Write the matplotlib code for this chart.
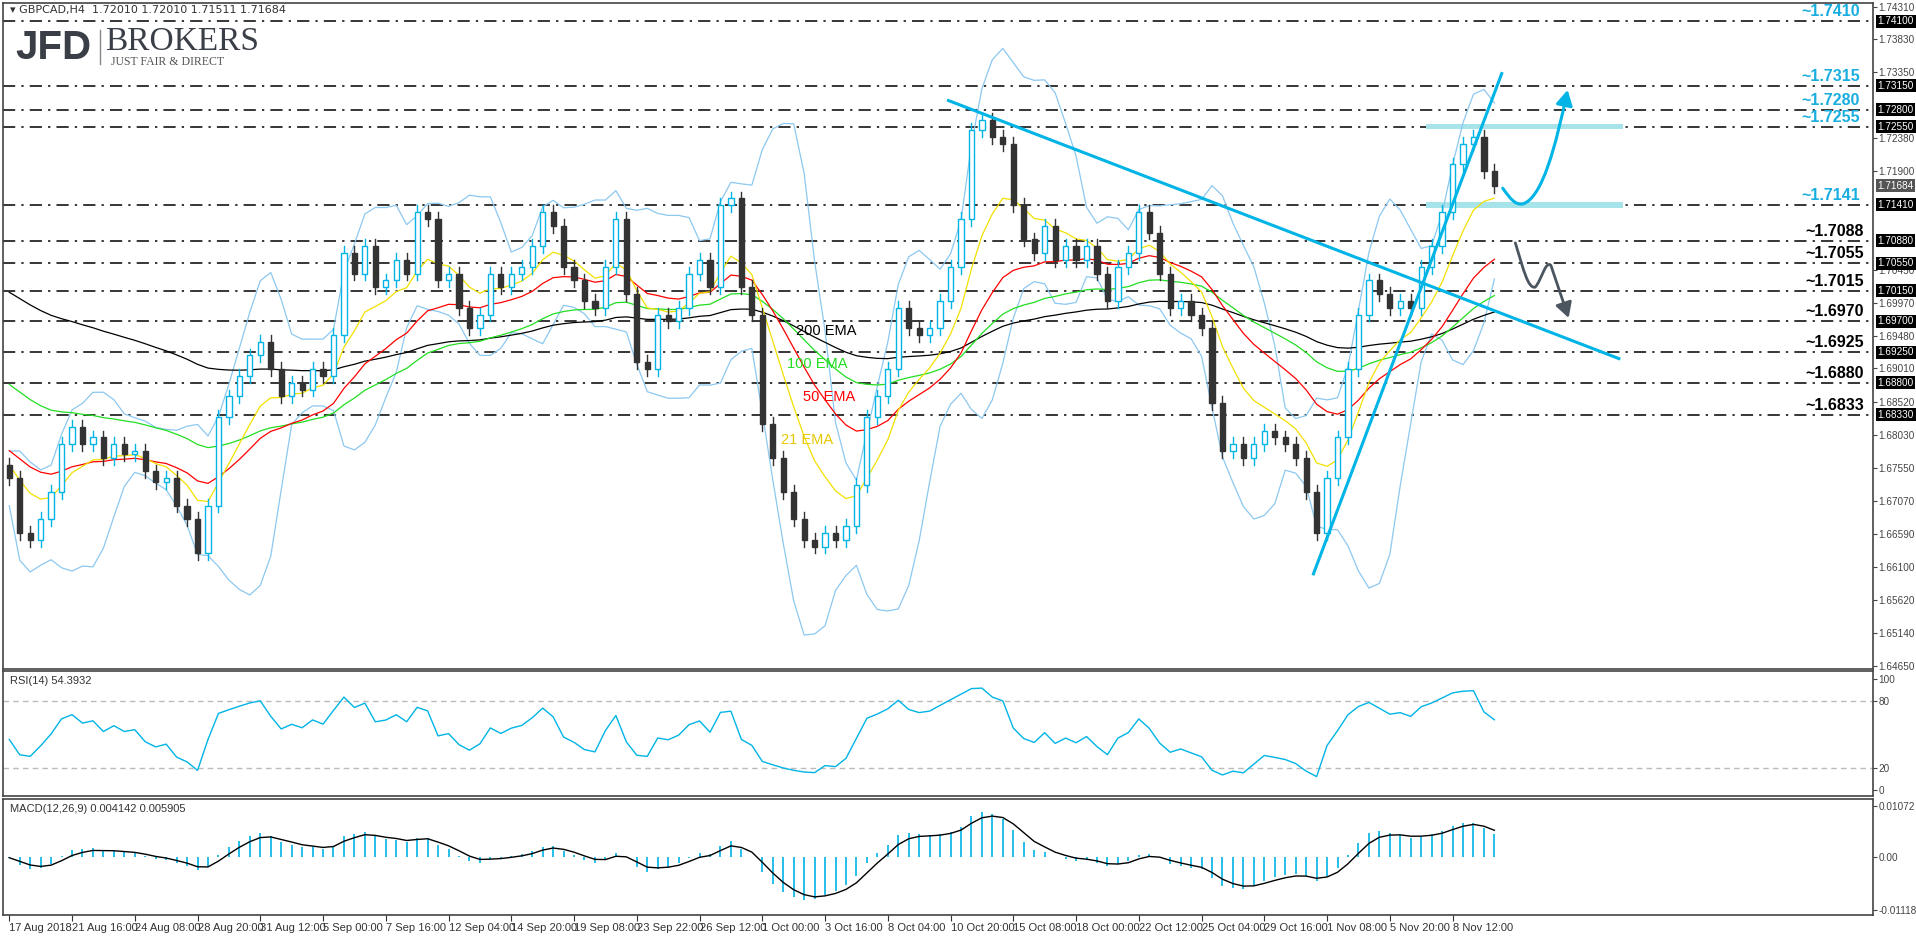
import numpy as np
import matplotlib
matplotlib.use("Agg")
import matplotlib.pyplot as plt
from matplotlib.patches import Rectangle, FancyArrowPatch
from matplotlib.path import Path
import matplotlib.transforms as mtransforms

# ---------------- data ----------------
closes = [1.6740,1.6660,1.6650,1.6680,1.6720,1.6790,1.6815,1.6790,1.6800,1.6770,
          1.6790,1.6775,1.6780,1.6750,1.6735,1.6740,1.6700,1.6680,1.6630,1.6700,
          1.6830,1.6860,1.6890,1.6920,1.6940,1.6900,1.6860,1.6880,1.6870,1.6900,
          1.6890,1.6950,1.7070,1.7040,1.7080,1.7020,1.7030,1.7060,1.7040,1.7130,
          1.7120,1.7030,1.7040,1.6990,1.6960,1.6980,1.7040,1.7020,1.7040,1.7050,
          1.7080,1.7130,1.7110,1.7050,1.7030,1.7000,1.6990,1.7050,1.7120,1.7010,
          1.6910,1.6900,1.6980,1.6970,1.6990,1.7040,1.7060,1.7020,1.7140,1.7150,
          1.7020,1.6980,1.6820,1.6770,1.6720,1.6680,1.6650,1.6640,1.6660,1.6650,
          1.6670,1.6730,1.6830,1.6860,1.6900,1.6990,1.6960,1.6950,1.6960,1.7000,
          1.7050,1.7120,1.7250,1.7265,1.7240,1.7230,1.7140,1.7090,1.7070,1.7110,
          1.7060,1.7080,1.7060,1.7080,1.7040,1.7000,1.7050,1.7070,1.7130,1.7100,
          1.7040,1.6990,1.7000,1.6980,1.6960,1.6850,1.6780,1.6790,1.6770,1.6790,
          1.6810,1.6800,1.6790,1.6770,1.6720,1.6660,1.6740,1.6800,1.6900,1.6980,
          1.7030,1.7010,1.6990,1.7000,1.6990,1.7050,1.7080,1.7130,1.7200,1.7230,
          1.7240,1.7190,1.7168]
first_open = 1.6760
wick = 0.0010
ema_seeds = {"21": 1.6765, "50": 1.6785, "100": 1.6885, "200": 1.7020}

tick_labels = ["17 Aug 2018","21 Aug 16:00","24 Aug 08:00","28 Aug 20:00","31 Aug 12:00",
               "5 Sep 00:00","7 Sep 16:00","12 Sep 04:00","14 Sep 20:00","19 Sep 08:00",
               "23 Sep 22:00","26 Sep 12:00","1 Oct 00:00","3 Oct 16:00","8 Oct 04:00",
               "10 Oct 20:00","15 Oct 08:00","18 Oct 00:00","22 Oct 12:00","25 Oct 04:00",
               "29 Oct 16:00","1 Nov 08:00","5 Nov 20:00","8 Nov 12:00"]
bars_per_label = 6

levels_cyan = [1.7410, 1.7315, 1.7280, 1.7255, 1.7141]
levels_black = [1.7088, 1.7055, 1.7015, 1.6970, 1.6925, 1.6880, 1.6833]
right_ticks = [1.74310,1.73830,1.73350,1.72380,1.71900,1.70450,1.69970,1.69480,1.69010,
               1.68520,1.68030,1.67550,1.67070,1.66590,1.66100,1.65620,1.65140,1.64650]
last_price = 1.71684

down_trend = ([89.8, 153.9], [1.72935, 1.69154])
up_trend = ([124.7, 142.7], [1.6600, 1.7333])
zone_x = [135.5, 154.3]

# ---------------- indicators ----------------
c = np.array(closes)
n = len(c)
x = np.arange(n)
opens = np.concatenate([[first_open], c[:-1]])

def ema(vals, period, seed):
    a = 2.0 / (period + 1)
    out = []
    prev = seed
    for v in vals:
        prev = prev + a * (v - prev)
        out.append(prev)
    return np.array(out)

scale = bars_per_label / 16.0
e21 = ema(c, max(2, round(21 * scale)), ema_seeds["21"])
e50 = ema(c, round(50 * scale), ema_seeds["50"])
e100 = ema(c, round(100 * scale), ema_seeds["100"])
e200 = ema(c, round(200 * scale), ema_seeds["200"])

bbp = 8
mid = np.array([c[max(0, i - bbp + 1):i + 1].mean() for i in range(n)])
sd = np.array([max(c[max(0, i - bbp + 1):i + 1].std(), 0.002) for i in range(n)])
bb_up = mid + 2 * sd
bb_lo = mid - 2 * sd

rp = 6
d = np.diff(np.concatenate([[first_open], c]))
g = np.where(d > 0, d, 0); l = np.where(d < 0, -d, 0)
ag = ema(g, 2 * rp - 1, 0.002); al = ema(l, 2 * rp - 1, 0.002)
rsi = 100 - 100 / (1 + ag / al)

m_fast = ema(c, 5, first_open); m_slow = ema(c, 10, first_open)
macd = m_fast - m_slow
signal = ema(macd, 3, 0.0)

# ---------------- figure ----------------
W, H = 1916, 936
fig = plt.figure(figsize=(W / 100, H / 100), dpi=100)
plt.rcParams['font.family'] = ['Liberation Sans', 'DejaVu Sans']
L, R = 3 / W, 1873 / W
ax = fig.add_axes([L, 1 - 669 / H, R - L, (669 - 3) / H])
ax2 = fig.add_axes([L, 1 - 796 / H, R - L, (796 - 671) / H], sharex=ax)
ax3 = fig.add_axes([L, 1 - 915 / H, R - L, (915 - 799) / H], sharex=ax)

xmax = 178.2
CY = "#00b4e6"
for a in (ax, ax2, ax3):
    a.set_xlim(-0.6, xmax)
    for s in a.spines.values():
        s.set_color("#444444"); s.set_linewidth(1.2)
    a.yaxis.tick_right()
    a.tick_params(axis='y', labelsize=7.2, colors="#444444", length=3, pad=1)
    a.tick_params(axis='x', length=0, labelbottom=False)

# main
ax.set_ylim(1.64606, 1.74364)
ax.set_yticks(right_ticks)
ax.set_yticklabels([f"{t:.5f}" for t in right_ticks])
for lv in levels_cyan + levels_black:
    ax.axhline(lv, color="black", lw=1.1, dashes=(8, 4, 1.5, 4))
bt = mtransforms.blended_transform_factory(ax.transAxes, ax.transData)
for lv in levels_cyan:
    ax.text(0.993, lv + 0.0003, f"~{lv:.4f}", transform=bt, ha="right", va="bottom",
            color="#1aaee0", fontsize=11.5, fontweight="bold")
for lv in levels_black:
    ax.text(0.995, lv + 0.0003, f"~{lv:.4f}", transform=bt, ha="right", va="bottom",
            color="black", fontsize=11.5, fontweight="bold")
for lv in levels_cyan + levels_black:
    ax.text(1.0025, lv, f"{lv:.5f}", transform=bt, ha="left", va="center", color="white",
            fontsize=7.2, bbox=dict(boxstyle="square,pad=0.15", fc="black", ec="none"))
ax.text(1.0025, last_price, f"{last_price:.5f}", transform=bt, ha="left", va="center",
        color="white", fontsize=7.2, bbox=dict(boxstyle="square,pad=0.15", fc="#555555", ec="none"))

for lo_, hi_ in [(1.72515, 1.72585), (1.71355, 1.7145)]:
    ax.add_patch(Rectangle((zone_x[0], lo_), zone_x[1] - zone_x[0], hi_ - lo_,
                           fc="#a6e4ea", ec="none", zorder=2))

ax.plot(x, bb_up, color="#8cc8f0", lw=0.9, zorder=2)
ax.plot(x, bb_lo, color="#8cc8f0", lw=0.9, zorder=2)
ax.plot(x, e200, color="black", lw=0.9, zorder=2)
ax.plot(x, e100, color="#22dd22", lw=0.9, zorder=2)
ax.plot(x, e50, color="red", lw=0.9, zorder=2)
ax.plot(x, e21, color="#f2e000", lw=0.9, zorder=2)

for i in range(n):
    o, cl = opens[i], c[i]
    hi, lo = max(o, cl) + wick, min(o, cl) - wick
    bull = cl >= o
    col = CY if bull else "#333333"
    ax.plot([x[i], x[i]], [lo, hi], color=col, lw=1, zorder=3)
    ax.add_patch(Rectangle((x[i] - 0.25, min(o, cl)), 0.5, max(abs(cl - o), 0.0002),
                           fc="white" if bull else "#333333", ec=col, lw=1, zorder=4))

ax.plot(*down_trend, color=CY, lw=2.2, zorder=5)
ax.plot(*up_trend, color=CY, lw=2.2, zorder=5)

up_path = Path([(142.8, 1.7165), (143.5, 1.7150), (144.0, 1.7140), (144.7, 1.7142),
                (146.6, 1.7150), (147.9, 1.7230), (149.0, 1.7309)],
               [Path.MOVETO, Path.CURVE4, Path.CURVE4, Path.CURVE4, Path.CURVE4, Path.CURVE4, Path.CURVE4])
ax.add_patch(FancyArrowPatch(path=up_path, arrowstyle="-|>,head_length=9,head_width=5",
                             color=CY, lw=2.2, zorder=6, transform=ax.transData))
dn_path = Path([(144.0, 1.7085), (144.8, 1.7045), (145.2, 1.7018), (145.9, 1.7020),
                (146.5, 1.7030), (146.9, 1.7060), (147.4, 1.7052), (149.1, 1.6975)],
               [Path.MOVETO, Path.CURVE4, Path.CURVE4, Path.CURVE4, Path.CURVE4, Path.CURVE4,
                Path.CURVE4, Path.LINETO])
ax.add_patch(FancyArrowPatch(path=dn_path, arrowstyle="-|>,head_length=9,head_width=5",
                             color="#4a5560", lw=2, zorder=6, transform=ax.transData))

ax.text(78.1, 1.6956, "200 EMA", color="black", fontsize=10.5, ha="center", va="center", zorder=7)
ax.text(77.3, 1.6908, "100 EMA", color="#22dd22", fontsize=10.5, ha="center", va="center", zorder=7)
ax.text(78.4, 1.6859, "50 EMA", color="red", fontsize=10.5, ha="center", va="center", zorder=7)
ax.text(76.3, 1.6796, "21 EMA", color="#e8c800", fontsize=10.5, ha="center", va="center", zorder=7)

ax.text(0.004, 0.997, "\u25BE GBPCAD,H4  1.72010 1.72010 1.71511 1.71684", transform=ax.transAxes,
        ha="left", va="top", fontsize=8, color="#333333", family=["DejaVu Sans"])
fig.text(15 / W, 1 - 48 / H, "JFD", fontsize=29, fontweight="bold", color="#3a3f47", va="center",
         family="Liberation Sans")
fig.text(105 / W, 1 - 42 / H, "BROKERS", fontsize=24, color="#3a3f47", va="center", family="Liberation Serif")
fig.text(111 / W, 1 - 62 / H, "JUST FAIR & DIRECT", fontsize=8.5, color="#555", va="center",
         family="Liberation Serif")
fig.add_artist(plt.Line2D([100 / W, 100 / W], [1 - 30 / H, 1 - 64 / H], color="#888", lw=1))

# RSI
ax2.set_ylim(-5.4, 107)
ax2.set_yticks([0, 20, 80, 100])
ax2.axhline(80, color="#bbbbbb", ls=(0, (4, 3)), lw=1)
ax2.axhline(20, color="#bbbbbb", ls=(0, (4, 3)), lw=1)
ax2.plot(x, rsi, color=CY, lw=1)
ax2.text(0.004, 0.96, "RSI(14) 54.3932", transform=ax2.transAxes, ha="left", va="top",
         fontsize=8, color="#333333")

# MACD
ax3.set_ylim(-0.0122, 0.0122)
ax3.set_yticks([-0.011186, 0.0, 0.01072])
ax3.set_yticklabels(["-0.011186", "0.00", "0.01072"])
ax3.vlines(x, 0, macd, color=CY, lw=1.2)
ax3.plot(x, signal, color="black", lw=1)
ax3.text(0.004, 0.96, "MACD(12,26,9) 0.004142 0.005905", transform=ax3.transAxes, ha="left", va="top",
         fontsize=8, color="#333333")
ticks = [j * bars_per_label for j in range(len(tick_labels))]
ax3.set_xticks(ticks)
ax3.set_xticklabels(tick_labels)
ax3.tick_params(axis='x', labelbottom=True, length=4, labelsize=8, colors="#333333", pad=2)
for lab in ax3.get_xticklabels():
    lab.set_ha("left")

fig.savefig("out.png", dpi=100)
